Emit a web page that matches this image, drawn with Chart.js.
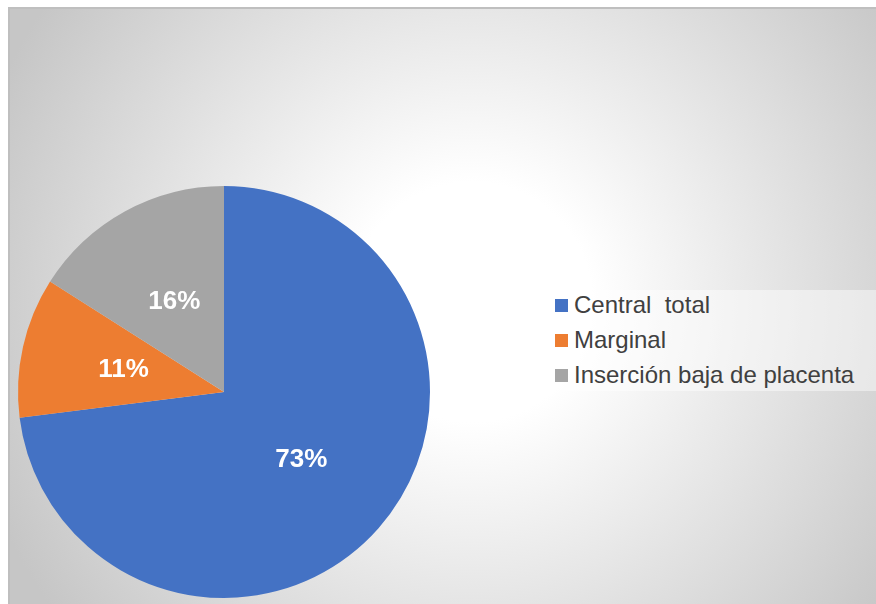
<!DOCTYPE html>
<html>
<head>
<meta charset="utf-8">
<script src="https://cdn.jsdelivr.net/npm/chart.js@4"></script>
<style>
    html, body { margin: 0; padding: 0; background: #fff; }
    body { width: 876px; height: 604px; position: relative; overflow: hidden; font-family: "Liberation Sans", Arial, sans-serif; }
    #frame {
        position: absolute; left: 8px; top: 7px; width: 880px; height: 610px;
        border-top: 2px solid #bfbfbf; border-left: 2px solid #bfbfbf;
        background: radial-gradient(circle at 462px 293px, #ffffff 0px, #ffffff 120px, #c6c6c6 520px);
    }
    #pieBox { position: absolute; left: 8px; top: 176px; width: 432px; height: 432px; }
    #legend {
        position: absolute; left: 529px; top: 290px; width: 360px; height: 101px;
        background: rgba(255, 255, 255, 0.45);
    }
    .item { position: absolute; left: 26px; height: 28px; display: flex; align-items: center; white-space: pre; font-size: 24px; color: #404040; }
    .swatch { width: 13px; height: 13px; margin-right: 6px; }
</style>
</head>
<body>
<div id="frame"></div>
<div id="pieBox"><canvas id="pieChart" width="432" height="432"></canvas></div>
<div id="legend"></div>
<script>
const categories = ["Central  total", "Marginal", "Inserción baja de placenta"];
const percentages = [73, 11, 16];
const sliceColors = ["#4472c4", "#ed7d31", "#a5a5a5"];

// Percent labels sit at half the radius on each slice's middle angle
const sliceLabels = {
    id: "sliceLabels",
    afterDatasetsDraw(chart) {
        const ctx = chart.ctx;
        const meta = chart.getDatasetMeta(0);
        ctx.save();
        ctx.font = "bold 26px 'Liberation Sans', Arial, sans-serif";
        ctx.fillStyle = "#ffffff";
        ctx.textAlign = "center";
        ctx.textBaseline = "middle";
        meta.data.forEach((arc, i) => {
            const mid = (arc.startAngle + arc.endAngle) / 2;
            const r = arc.outerRadius * 0.5;
            ctx.fillText(percentages[i] + "%", arc.x + Math.cos(mid) * r, arc.y + Math.sin(mid) * r);
        });
        ctx.restore();
    }
};

new Chart(document.getElementById("pieChart").getContext("2d"), {
    type: "pie",
    data: {
        labels: categories,
        datasets: [{
            data: percentages,
            backgroundColor: sliceColors,
            borderWidth: 0
        }]
    },
    options: {
        responsive: false,
        animation: false,
        layout: { padding: 10 },
        plugins: {
            legend: { display: false },
            tooltip: { enabled: false }
        }
    },
    plugins: [sliceLabels]
});

// Legend on the right, built from the same arrays
const legend = document.getElementById("legend");
categories.forEach((name, i) => {
    const row = document.createElement("div");
    row.className = "item";
    row.style.top = (1 + i * 35) + "px";
    const sw = document.createElement("span");
    sw.className = "swatch";
    sw.style.background = sliceColors[i];
    row.appendChild(sw);
    row.appendChild(document.createTextNode(name));
    legend.appendChild(row);
});
</script>
</body>
</html>
